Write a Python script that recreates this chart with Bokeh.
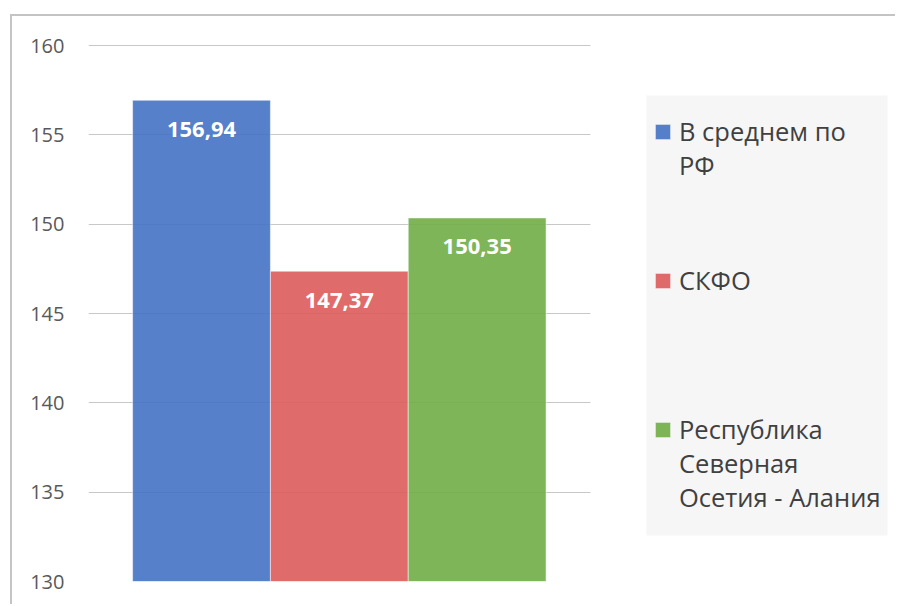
import numpy as np
from bokeh.plotting import figure
from bokeh.models import Range1d, Legend, LegendItem, FixedTicker, ColumnDataSource, BoxAnnotation
from bokeh.core.properties import value
from bokeh.embed import file_html
from bokeh.resources import INLINE

series = ["В среднем по РФ", "СКФО", "Республика Северная Осетия - Алания"]
legend_lines = [["В среднем по", "РФ"], ["СКФО"], ["Республика", "Северная", "Осетия - Алания"]]
values = [156.94, 147.37, 150.35]
colors = ["#4472C4", "#DC5B5B", "#70AD47"]
y_ticks = [130, 135, 140, 145, 150, 155, 160]

labels = [f"{v:.2f}".replace(".", ",") for v in values]
xpos = np.arange(len(series)) + 0.5

src = ColumnDataSource(dict(x=xpos, name=series, top=values, color=colors, label=labels))

p = figure(width=885, height=590,
           x_range=Range1d(-0.32, 5.55),
           y_range=Range1d(y_ticks[0], y_ticks[-1] + 0.06),
           output_backend="svg", toolbar_location=None,
           min_border_left=76, min_border_right=0, min_border_top=28, min_border_bottom=25)
p.styles = {"margin-left": "10px", "margin-top": "14px",
            "border-top": "2px solid #c4c4c4", "border-left": "2px solid #c4c4c4"}
p.outline_line_color = None
p.background_fill_color = "white"

legend_bg = BoxAnnotation(left=632, right=873, top=77, bottom=517,
                          left_units="canvas", right_units="canvas",
                          top_units="canvas", bottom_units="canvas",
                          fill_color="#f6f6f6", fill_alpha=1.0, line_color=None,
                          level="underlay")
p.add_layout(legend_bg)

r = p.vbar(x="x", top="top", bottom=y_ticks[0], width=1.0, source=src,
           fill_color="color", fill_alpha=0.9, line_color="white", line_alpha=0.5, line_width=1)
# renderer without a visible legend glyph, for continuation lines of legend labels
blank = p.vbar(x=[], top=[], width=1.0, fill_alpha=0, line_alpha=0)

p.text(x="x", y="top", text="label", source=src, text_color="white",
       text_font=value("Open Sans"), text_font_style="bold", text_font_size="22px",
       text_align="center", text_baseline="middle", y_offset=29)

p.xaxis.visible = False
p.xgrid.grid_line_color = None
p.ygrid.grid_line_color = "#c8c8c8"
p.ygrid.grid_line_width = 1
p.ygrid.cross_bounds = (-0.32, len(series) + 0.32)
p.yaxis.ticker = FixedTicker(ticks=y_ticks)
p.yaxis.axis_line_color = None
p.yaxis.major_tick_line_color = None
p.yaxis.minor_tick_line_color = None
p.yaxis.major_label_text_font = "Open Sans"
p.yaxis.major_label_text_font_size = "20px"
p.yaxis.major_label_text_color = "#595959"
p.yaxis.major_label_standoff = 18

legend_y = [399, 284, 67]
for i, lines in enumerate(legend_lines):
    its = [LegendItem(label=lines[0], renderers=[r], index=i)]
    its += [LegendItem(label=t, renderers=[blank]) for t in lines[1:]]
    lg = Legend(items=its, location=(565, legend_y[i]), background_fill_alpha=0.0,
                border_line_color=None,
                label_text_font="Open Sans", label_text_font_size="25.5px",
                label_text_color="#404040", label_height=34,
                padding=0, spacing=0, glyph_width=19, glyph_height=19,
                label_standoff=7, margin=0)
    p.add_layout(lg, "center")

open("out.html", "w").write(file_html(p, INLINE))
